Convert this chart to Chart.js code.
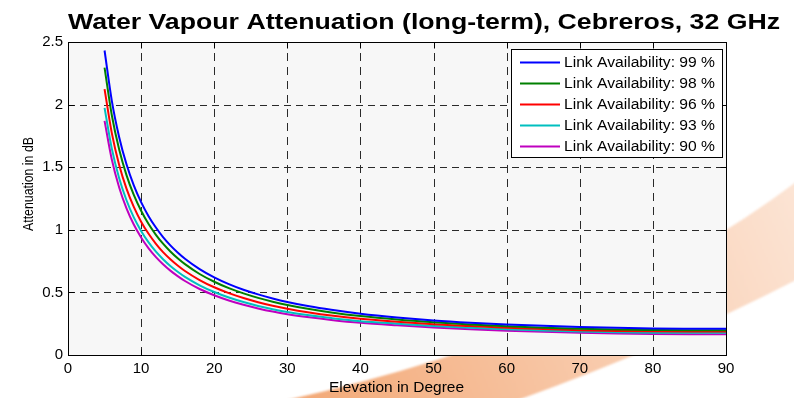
<!DOCTYPE html>
<html>
<head>
<meta charset="utf-8">
<script src="https://cdn.jsdelivr.net/npm/chart.js@4.4.1/dist/chart.umd.min.js"></script>
<style>
  html, body { margin: 0; padding: 0; background: #ffffff; }
  #wrap { width: 794px; height: 398px; }
</style>
</head>
<body>
<div id="wrap"><canvas id="c" width="794" height="398"></canvas></div>
<script>
// Texts
const titleText = 'Water Vapour Attenuation (long-term), Cebreros, 32 GHz';
const xTitle = 'Elevation in Degree';
const yTitle = 'Attenuation in dB';

// Elevation angles (degrees)
const elevation = [5, 6, 7, 8, 9, 10, 11, 12, 13, 14, 15, 16, 18, 20, 22, 24, 26, 28, 30, 33, 36, 40, 45, 50, 55, 60, 65, 70, 75, 80, 85, 90];

// Attenuation in dB for each link availability
const avail99 = [2.432, 2.028, 1.740, 1.523, 1.355, 1.221, 1.111, 1.020, 0.942, 0.876, 0.819, 0.769, 0.686, 0.620, 0.566, 0.521, 0.484, 0.452, 0.424, 0.389, 0.361, 0.330, 0.300, 0.276, 0.258, 0.244, 0.233, 0.224, 0.217, 0.212, 0.210, 0.209];
const avail98 = [2.295, 1.913, 1.641, 1.437, 1.278, 1.152, 1.048, 0.962, 0.889, 0.827, 0.773, 0.726, 0.647, 0.585, 0.534, 0.492, 0.456, 0.426, 0.400, 0.367, 0.340, 0.311, 0.283, 0.261, 0.243, 0.229, 0.218, 0.209, 0.203, 0.200, 0.198, 0.198];
const avail96 = [2.123, 1.770, 1.518, 1.329, 1.183, 1.065, 0.970, 0.890, 0.822, 0.765, 0.715, 0.671, 0.599, 0.541, 0.494, 0.455, 0.422, 0.394, 0.370, 0.340, 0.315, 0.289, 0.266, 0.246, 0.231, 0.218, 0.207, 0.198, 0.192, 0.189, 0.188, 0.188];
const avail93 = [1.974, 1.646, 1.411, 1.236, 1.099, 0.991, 0.901, 0.827, 0.765, 0.711, 0.665, 0.624, 0.557, 0.503, 0.459, 0.423, 0.392, 0.366, 0.344, 0.317, 0.295, 0.270, 0.250, 0.232, 0.217, 0.205, 0.195, 0.187, 0.181, 0.178, 0.177, 0.177];
const avail90 = [1.870, 1.559, 1.338, 1.171, 1.042, 0.939, 0.854, 0.784, 0.725, 0.674, 0.630, 0.591, 0.527, 0.477, 0.435, 0.401, 0.372, 0.347, 0.326, 0.301, 0.280, 0.257, 0.237, 0.220, 0.205, 0.194, 0.185, 0.178, 0.172, 0.168, 0.166, 0.165];

const seriesLabels = ['Link Availability: 99 %', 'Link Availability: 98 %', 'Link Availability: 96 %', 'Link Availability: 93 %', 'Link Availability: 90 %'];
const seriesValues = [avail99, avail98, avail96, avail93, avail90];
const seriesColors = ['#0000ff', '#008000', '#ff0000', '#00bfbf', '#bf00bf'];

// Axis tick labels
const xTickValues = [0, 10, 20, 30, 40, 50, 60, 70, 80, 90];
const xTickLabels = ['0', '10', '20', '30', '40', '50', '60', '70', '80', '90'];
const yTickValues = [0, 0.5, 1, 1.5, 2, 2.5];
const yTickLabels = ['0', '0.5', '1', '1.5', '2', '2.5'];

const FONT = '"Liberation Sans", Arial, Helvetica, sans-serif';

// Draws text stretched horizontally so that it spans the requested width
function fillFitted(ctx, text, x, y, width, align) {
  const natural = ctx.measureText(text).width;
  const sx = width / natural;
  ctx.save();
  ctx.translate(x, y);
  ctx.scale(sx, 1);
  ctx.textAlign = align;
  ctx.fillText(text, 0, 0);
  ctx.restore();
}

const figurePlugin = {
  id: 'figure',
  beforeDraw(chart) {
    const { ctx, chartArea: a } = chart;
    ctx.save();
    // orange swoosh in the figure background
    const g = ctx.createLinearGradient(300, 398, 794, 190);
    g.addColorStop(0, '#f3a977');
    g.addColorStop(0.5, '#f8c8a8');
    g.addColorStop(1, '#fce4d4');
    ctx.filter = 'blur(1px)';
    ctx.beginPath();
    ctx.moveTo(287, 400);
    ctx.quadraticCurveTo(600, 330, 796, 182);
    ctx.lineTo(796, 280);
    ctx.quadraticCurveTo(670, 345, 518, 400);
    ctx.closePath();
    ctx.fillStyle = g;
    ctx.fill();
    ctx.filter = 'none';
    // axes background
    ctx.fillStyle = '#f7f7f7';
    ctx.fillRect(a.left, a.top, a.right - a.left, a.bottom - a.top);
    ctx.restore();
  },
  beforeDatasetsDraw(chart) {
    const { ctx, chartArea: a, scales } = chart;
    ctx.save();
    ctx.strokeStyle = '#2a2a2a';
    ctx.lineWidth = 1;
    // vertical dashed grid
    ctx.setLineDash([8, 6]);
    xTickValues.forEach(v => {
      if (v === 0 || v === 90) return;
      const x = Math.round(scales.x.getPixelForValue(v)) + 0.5;
      ctx.beginPath();
      ctx.moveTo(x, a.bottom);
      ctx.lineTo(x, a.top);
      ctx.stroke();
    });
    // horizontal dashed grid
    ctx.setLineDash([7, 5]);
    yTickValues.forEach(v => {
      if (v === 0 || v === 2.5) return;
      const y = Math.round(scales.y.getPixelForValue(v)) + 0.5;
      ctx.beginPath();
      ctx.moveTo(a.left, y);
      ctx.lineTo(a.right, y);
      ctx.stroke();
    });
    ctx.restore();
  },
  afterDatasetsDraw(chart) {
    const { ctx, chartArea: a, scales } = chart;
    ctx.save();
    ctx.strokeStyle = '#000';
    ctx.lineWidth = 1;
    ctx.setLineDash([]);
    const L = Math.round(a.left) + 0.5, R = Math.round(a.right) + 0.5;
    const T = Math.round(a.top) + 0.5, B = Math.round(a.bottom) + 0.5;
    ctx.strokeRect(L, T, R - L, B - T);
    // inward tick marks on all four sides
    const tl = 6;
    ctx.beginPath();
    xTickValues.forEach(v => {
      const x = Math.round(scales.x.getPixelForValue(v)) + 0.5;
      ctx.moveTo(x, B); ctx.lineTo(x, B - tl);
      ctx.moveTo(x, T); ctx.lineTo(x, T + tl);
    });
    yTickValues.forEach(v => {
      const y = Math.round(scales.y.getPixelForValue(v)) + 0.5;
      ctx.moveTo(L, y); ctx.lineTo(L + tl, y);
      ctx.moveTo(R, y); ctx.lineTo(R - tl, y);
    });
    ctx.stroke();

    // legend box
    const bx = 511.5, by = 49.5, bw = 211, bh = 108;
    ctx.fillStyle = '#ffffff';
    ctx.fillRect(bx, by, bw, bh);
    ctx.strokeRect(bx, by, bw, bh);
    ctx.font = '14px ' + FONT;
    ctx.textBaseline = 'middle';
    chart.data.datasets.forEach((ds, i) => {
      const cy = 62.5 + i * 21;
      ctx.strokeStyle = ds.borderColor;
      ctx.lineWidth = 2;
      ctx.beginPath();
      ctx.moveTo(520, cy);
      ctx.lineTo(560, cy);
      ctx.stroke();
      ctx.fillStyle = '#000';
      fillFitted(ctx, ds.label, 564, cy + 0.5, 151, 'left');
    });
    ctx.restore();
  },
  afterDraw(chart) {
    const { ctx } = chart;
    ctx.save();
    ctx.fillStyle = '#000';
    ctx.textBaseline = 'alphabetic';
    // title
    ctx.font = 'bold 22px ' + FONT;
    fillFitted(ctx, titleText, 424, 28.5, 712, 'center');
    // x axis title
    ctx.font = '14px ' + FONT;
    fillFitted(ctx, xTitle, 396.5, 392, 135, 'center');
    // y axis title
    ctx.save();
    ctx.translate(33, 184);
    ctx.rotate(-Math.PI / 2);
    ctx.font = '14px ' + FONT;
    ctx.textBaseline = 'alphabetic';
    const w = ctx.measureText(yTitle).width;
    ctx.scale(94 / w, 1);
    ctx.textAlign = 'center';
    ctx.fillText(yTitle, 0, 0);
    ctx.restore();
    ctx.restore();
  }
};

const datasets = seriesValues.map((vals, i) => ({
  label: seriesLabels[i],
  data: elevation.map((e, j) => ({ x: e, y: vals[j] })),
  borderColor: seriesColors[i],
  backgroundColor: seriesColors[i],
  borderWidth: 2,
  pointRadius: 0,
  fill: false,
  cubicInterpolationMode: 'monotone'
}));

new Chart(document.getElementById('c'), {
  type: 'line',
  data: { datasets },
  plugins: [figurePlugin],
  options: {
    responsive: false,
    animation: false,
    devicePixelRatio: 1,
    layout: { padding: { left: 0, top: 42, right: 68, bottom: 0 } },
    plugins: {
      legend: { display: false },
      title: { display: false },
      tooltip: { enabled: false }
    },
    scales: {
      x: {
        type: 'linear',
        min: 0,
        max: 90,
        afterBuildTicks: s => { s.ticks = xTickValues.map(v => ({ value: v })); },
        afterFit: s => { s.height = 43; },
        grid: { display: false, drawTicks: false, tickLength: 0 },
        border: { display: false },
        ticks: {
          autoSkip: false,
          maxRotation: 0,
          padding: 5,
          color: '#000',
          font: { family: FONT, size: 15 },
          callback: v => xTickLabels[xTickValues.indexOf(v)]
        }
      },
      y: {
        type: 'linear',
        min: 0,
        max: 2.5,
        afterBuildTicks: s => { s.ticks = yTickValues.map(v => ({ value: v })); },
        afterFit: s => { s.width = 68; },
        grid: { display: false, drawTicks: false, tickLength: 0 },
        border: { display: false },
        ticks: {
          autoSkip: false,
          padding: 5,
          color: '#000',
          font: { family: FONT, size: 15 },
          callback: v => yTickLabels[yTickValues.indexOf(v)]
        }
      }
    }
  }
});
</script>
</body>
</html>
